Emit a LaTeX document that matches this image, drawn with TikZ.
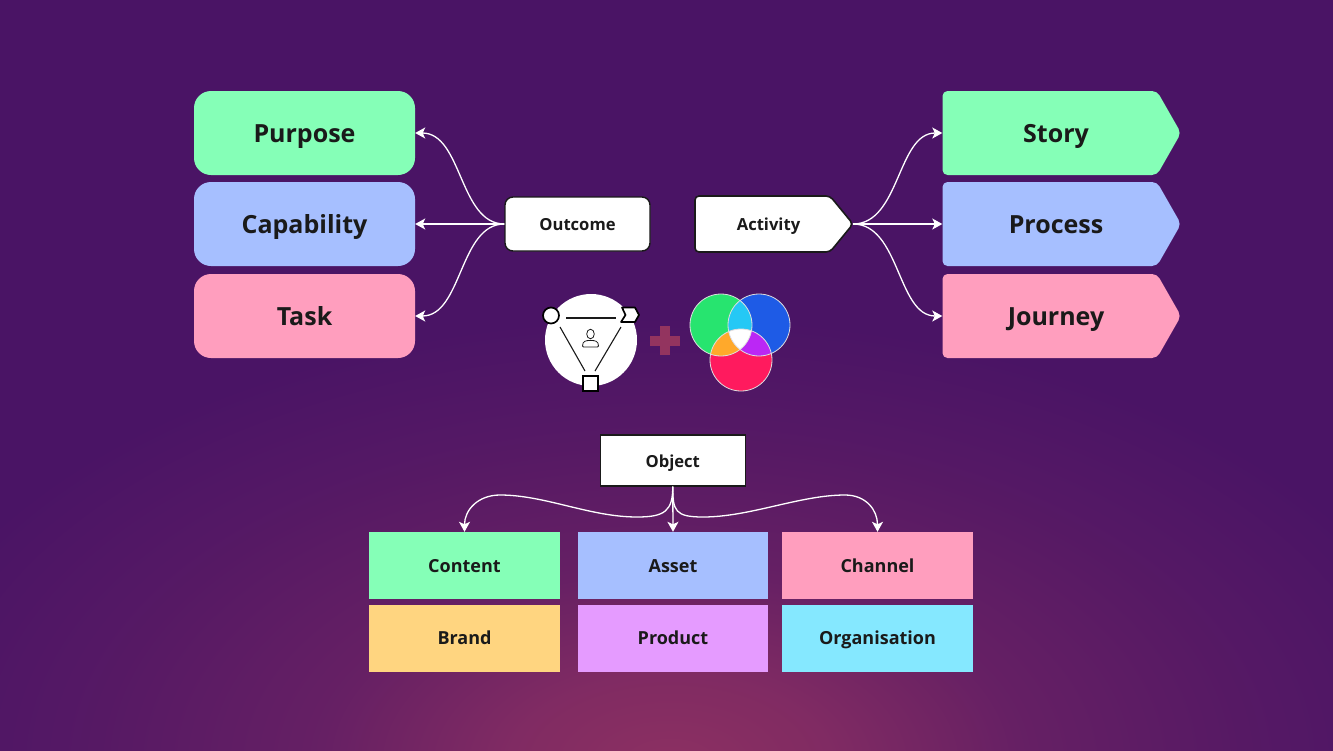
\documentclass[tikz,border=0pt]{standalone}
\usepackage{fontspec}
\setmainfont{Open Sans}
\usetikzlibrary{arrows.meta}
\definecolor{bgbase}{HTML}{4A1465}
\definecolor{bgglow}{HTML}{8C3062}
\definecolor{mint}{HTML}{85FFB7}
\definecolor{periwinkle}{HTML}{A6BFFF}
\definecolor{rosepink}{HTML}{FF9EBE}
\definecolor{sand}{HTML}{FFD580}
\definecolor{lilac}{HTML}{E59BFF}
\definecolor{skyblue}{HTML}{85E8FF}
\definecolor{inkdark}{HTML}{1A1A1A}
\definecolor{plusmark}{HTML}{93345F}
\definecolor{venngreen}{HTML}{27E46F}
\definecolor{vennblue}{HTML}{1E5BE6}
\definecolor{vennred}{HTML}{FF1A5E}
\definecolor{venncyan}{HTML}{25C8F5}
\definecolor{vennorange}{HTML}{FFA92B}
\definecolor{vennviolet}{HTML}{BB27F5}
\pgfdeclareradialshading{floorglow}{\pgfpoint{0bp}{0bp}}{%
  color(0bp)=(bgglow);
  color(5bp)=(bgglow!82!bgbase);
  color(11bp)=(bgglow!42!bgbase);
  color(18bp)=(bgglow!18!bgbase);
  color(25bp)=(bgbase);
  color(100bp)=(bgbase)}
\tikzset{
  x=1pt,y=-1pt,
  big/.style={font=\fontsize{25}{25}\selectfont\bfseries,text=inkdark,text height=21pt,text depth=2pt,inner sep=0pt},
  small/.style={font=\fontsize{18}{18}\selectfont\bfseries,text=inkdark,text height=15pt,text depth=2pt,inner sep=0pt},
  header/.style={font=\fontsize{16.6}{17}\selectfont\bfseries,text=inkdark,text height=15pt,text depth=2pt,inner sep=0pt},
  roundbox/.style={big,rounded corners=17pt,minimum width=221pt,minimum height=84pt},
  tile/.style={small,minimum width=191pt,minimum height=67pt},
  link/.style={draw=white,line width=1.3pt,-{Stealth[length=10pt,width=11pt,inset=2.5pt]}},
  vennline/.style={draw=white!75!gray,line width=0.8pt},
}
\newcommand{\pentagonpath}[5]{% left, top, shoulder, tip, bottom
  (#1,#2) -- (#3,#2) -- (#4,{(#2+#5)/2}) -- (#3,#5) -- (#1,#5) -- cycle}
\begin{document}
\begin{tikzpicture}
\useasboundingbox (0,0) rectangle (1333,750);
% backdrop
\fill[bgbase] (0,0) rectangle (1333,750);
\begin{scope}
  \clip (0,0) rectangle (1333,750);
  \shade[shading=floorglow] (670,765) ellipse [x radius=800, y radius=450];
\end{scope}

% left column
\node[roundbox,fill=mint] (purpose) at (304.5,133) {Purpose};
\node[roundbox,fill=periwinkle] (capability) at (304.5,224) {Capability};
\node[roundbox,fill=rosepink] (task) at (304.5,316) {Task};

% right column
\fill[mint,rounded corners=5pt] \pentagonpath{942.5}{91}{1157}{1181}{175};
\fill[periwinkle,rounded corners=5pt] \pentagonpath{942.5}{182}{1157}{1181}{266};
\fill[rosepink,rounded corners=5pt] \pentagonpath{942.5}{274}{1157}{1181}{358};
\node[big,minimum width=227pt,minimum height=84pt] (story) at (1056,133) {Story};
\node[big,minimum width=227pt,minimum height=84pt] (process) at (1056,224) {Process};
\node[big,minimum width=227pt,minimum height=84pt] (journey) at (1056,316) {Journey};

% central labels
\node[header,fill=white,draw=inkdark,line width=1.4pt,rounded corners=8pt,minimum width=145pt,minimum height=54pt] (outcome) at (577.5,224) {Outcome};
\draw[fill=white,draw=inkdark,line width=1.6pt,rounded corners=4pt] \pentagonpath{695}{196}{830}{853}{252};
\coordinate (activitytip) at (853,224);
\node[header,minimum width=147pt,minimum height=56pt] (activity) at (768.5,224) {Activity};
\node[header,fill=white,draw=inkdark,line width=1.4pt,minimum width=145pt,minimum height=51pt] (object) at (672.75,460.5) {Object};

% tiles
\node[tile,fill=mint] (content) at (464.5,565.5) {Content};
\node[tile,fill=periwinkle,minimum width=190pt] (asset) at (673,565.5) {Asset};
\node[tile,fill=rosepink] (channel) at (877.5,565.5) {Channel};
\node[tile,fill=sand] (brand) at (464.5,638) {Brand};
\node[tile,fill=lilac,minimum width=190pt] (product) at (673,638) {Product};
\node[tile,fill=skyblue] (organisation) at (877.5,638) {Organisation};

% fan from Outcome
\path[link] (outcome.west) .. controls +(-45,0) and +(47,0) .. (purpose.east);
\path[link] (outcome.west) -- (capability.east);
\path[link] (outcome.west) .. controls +(-45,0) and +(47,0) .. (task.east);

% fan from Activity
\path[link] (activitytip) .. controls +(47,0) and +(-45,0) .. (story.west);
\path[link] (activitytip) -- (process.west);
\path[link] (activitytip) .. controls +(47,0) and +(-45,0) .. (journey.west);

% fan from Object
\path[link] (object.south) .. controls +(0,24) and +(28,0) .. (637,517)
  .. controls (590,517) and (545,495) .. (500,495)
  .. controls (478,495) and (464.5,510) .. (content.north);
\path[link] (object.south) -- (asset.north);
\path[link] (object.south) .. controls +(0,24) and +(-28,0) .. (703,517)
  .. controls (750,517) and (800,495) .. (845,495)
  .. controls (866,495) and (877.5,510) .. (channel.north);

% triad badge
\node[circle,fill=white,inner sep=0pt,minimum size=92pt] (badge) at (591,340) {};
\node[circle,fill=white,draw=black,line width=1.7pt,inner sep=0pt,minimum size=16pt] (dot) at (551,315.5) {};
\draw[fill=white,draw=black,line width=1.7pt,line join=round] (622,307.5) -- (635,307.5) -- (639,315) -- (635,322) -- (621,322) -- (625.5,315) -- cycle;
\node[rectangle,fill=white,draw=black,line width=1.7pt,inner sep=0pt,minimum size=15pt] (square) at (590.5,383.5) {};
\draw[inkdark,line width=1.1pt] (566,318) -- (616,318);
\draw[inkdark,line width=1.1pt] (560,327) -- (585,371);
\draw[inkdark,line width=1.1pt] (621,327) -- (595,371);
\draw[inkdark,line width=0.8pt] (590.5,334) ellipse [x radius=3.8, y radius=4.8];
\draw[inkdark,line width=0.8pt,rounded corners=1pt] (582.5,347) .. controls (582.5,341) and (586,340.5) .. (590.5,340.5) .. controls (595,340.5) and (598.5,341) .. (598.5,347) -- cycle;

% plus sign
\fill[plusmark] (660,326) rectangle (669.5,355);
\fill[plusmark] (650,336) rectangle (680,345.5);

% overlapping circles
\fill[vennred] (741,360) circle (31);
\fill[vennblue] (759,325) circle (31);
\fill[venngreen] (721,325) circle (31);
\begin{scope}
  \clip (721,325) circle (31);
  \fill[venncyan] (759,325) circle (31);
  \fill[vennorange] (741,360) circle (31);
\end{scope}
\begin{scope}
  \clip (759,325) circle (31);
  \fill[vennviolet] (741,360) circle (31);
  \begin{scope}
    \clip (721,325) circle (31);
    \fill[white] (741,360) circle (31);
  \end{scope}
\end{scope}
\draw[vennline] (721,325) circle (31);
\draw[vennline] (759,325) circle (31);
\draw[vennline] (741,360) circle (31);
\end{tikzpicture}
\end{document}
